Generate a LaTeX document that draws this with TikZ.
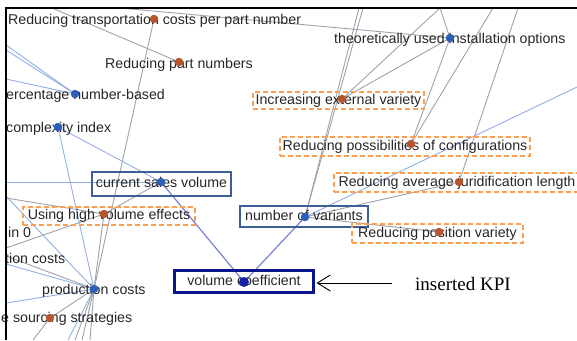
\documentclass[tikz,border=0pt]{standalone}
\usepackage{fontspec}
\setmainfont{Liberation Sans}
\newfontfamily\kpiserif{Liberation Serif}
\usetikzlibrary{arrows.meta}
\definecolor{txt}{HTML}{262626}
\definecolor{dashor}{RGB}{250,160,80}
\definecolor{boxblue}{RGB}{60,95,150}
\definecolor{kpinavy}{RGB}{10,20,140}
\definecolor{edgegray}{RGB}{160,160,170}
\definecolor{edgelblue}{RGB}{145,175,228}
\definecolor{edgemblue}{RGB}{120,130,215}
\definecolor{dotor}{RGB}{185,85,45}
\definecolor{dotbl}{RGB}{45,95,185}
\definecolor{dotkpi}{RGB}{20,35,165}
\begin{document}
\begin{tikzpicture}[x=1pt,y=-1pt,
  lbl/.style={font=\fontsize{14.2}{16}\selectfont, text=txt, inner sep=0pt, anchor=west, text height=10pt, text depth=0pt},
  boxbase/.style={font=\fontsize{14.2}{16}\selectfont, text=txt, inner sep=0pt, text height=10pt, text depth=3pt},
  dbox/.style={boxbase, draw=dashor, line width=1.4pt, dash pattern=on 5pt off 3pt},
  bbox/.style={boxbase, draw=boxblue, line width=1.2pt},
  kbox/.style={boxbase, draw=kpinavy, line width=3pt},
  odot/.style={circle, fill=dotor, minimum size=8.5pt, inner sep=0pt},
  bdot/.style={circle, fill=dotbl, minimum size=8.5pt, inner sep=0pt},
  kdot/.style={circle, fill=dotkpi, minimum size=10pt, inner sep=0pt},
  gedge/.style={draw=edgegray, line width=0.9pt},
  ledge/.style={draw=edgelblue, line width=0.9pt},
  medge/.style={draw=edgemblue, line width=1.2pt}]
\useasboundingbox (0,0) rectangle (577,340);

% dot positions
\coordinate (dTrans) at (154,19);
\coordinate (dParts) at (179,62);
\coordinate (dTheo) at (450,38);
\coordinate (dPerc) at (75,94);
\coordinate (dExt) at (342,99);
\coordinate (dComp) at (58,127);
\coordinate (dPoss) at (411,144);
\coordinate (dCur) at (161,182);
\coordinate (dJur) at (459,182);
\coordinate (dHigh) at (104,214);
\coordinate (dNov) at (305,217);
\coordinate (dPos) at (439,232);
\coordinate (dProd) at (94,289);
\coordinate (dVol) at (244,282);
\coordinate (dSrc) at (50,318);

% free ends
\coordinate (fT1) at (52,8);
\coordinate (fT2) at (120,8);
\coordinate (fT3) at (440,8);
\coordinate (fT4) at (493,8);
\coordinate (fT5) at (518,8);
\coordinate (fT6) at (359,8);
\coordinate (fT7) at (363,8);
\coordinate (fR1) at (577,87);
\coordinate (fL1) at (6,45);
\coordinate (fL2) at (6,50);
\coordinate (fL3) at (6,79);
\coordinate (fL4) at (6,182);
\coordinate (fL5) at (6,198);
\coordinate (fL6) at (6,196);
\coordinate (fL7) at (6,248);
\coordinate (fL8) at (6,256);
\coordinate (fL9) at (6,264);
\coordinate (fL10) at (6,303);
\coordinate (fB1) at (33,340);
\coordinate (fB2) at (75,340);
\coordinate (fB3) at (82,340);
\coordinate (fB4) at (90,340);
\coordinate (fB5) at (68,340);

\begin{scope}
\clip (6,8) rectangle (577,340);
% gray edges
\draw[gedge] (fT1) -- (dParts);
\draw[gedge] (fT2) -- (dTheo);
\draw[gedge] (fT3) -- (dExt);
\draw[gedge] (fT3) -- (dTheo);
\draw[gedge] (dTheo) -- (dExt);
\draw[gedge] (dTheo) -- (dPoss);
\draw[gedge] (fT4) -- (dPoss);
\draw[gedge] (fT5) -- (dJur);
\draw[gedge] (fT6) -- (dNov);
\draw[gedge] (fT7) -- (dNov);
\draw[gedge] (dNov) -- (dJur);
\draw[gedge] (dNov) -- (dPos);
\draw[gedge] (dTrans) -- (dProd);
\draw[gedge] (dHigh) -- (dCur);
\draw[gedge] (dHigh) -- (dProd);
\draw[gedge] (fL5) -- (dHigh);
\draw[gedge] (fL7) -- (dHigh);
\draw[gedge] (fL8) -- (dProd);
\draw[gedge] (dSrc) -- (dProd);
\draw[gedge] (dSrc) -- (fB1);
\draw[gedge] (dProd) -- (fB2);
\draw[gedge] (dProd) -- (fB3);
\draw[gedge] (dProd) -- (fB4);
% light blue edges
\draw[ledge] (fL1) -- (dPerc);
\draw[ledge] (fL2) -- (dPerc);
\draw[ledge] (fL3) -- (dPerc);
\draw[ledge] (dComp) -- (dCur);
\draw[ledge] (dComp) -- (dProd);
\draw[ledge] (fL4) -- (dCur);
\draw[ledge] (fL6) -- (dProd);
\draw[ledge] (fL9) -- (dProd);
\draw[ledge] (fL10) -- (dProd);
\draw[ledge] (dProd) -- (fB5);
\draw[ledge] (dNov) -- (fR1);
% medium blue edges
\draw[medge] (dCur) -- (dVol);
\draw[medge] (dNov) -- (dVol);
\end{scope}

% plain labels
\node[lbl] (lTrans) at (8,19) {Reducing transportation costs per part number};
\node[lbl] (lParts) at (105,63) {Reducing part numbers};
\node[lbl] (lTheo) at (334,38) {theoretically used installation options};
\node[lbl] (lPerc) at (6,94) {ercentage number-based};
\node[lbl] (lComp) at (6,127) {complexity index};
\node[lbl] (lIn) at (8,232) {in 0};
\node[lbl] (lTion) at (5,258) {tion costs};
\node[lbl] (lProd) at (42,289) {production costs};
\node[lbl] (lSrc) at (1,317) {e sourcing strategies};

% boxed labels
\node[dbox, minimum width=171pt, minimum height=17pt] (lExt) at (338.5,100.5) {Increasing external variety};
\node[dbox, minimum width=250pt, minimum height=19pt] (lPoss) at (405,146.5) {Reducing possibilities of configurations};
\node[bbox, minimum width=139pt, minimum height=24pt] (lCur) at (161.5,184) {current sales volume};
\node[dbox, minimum width=246pt, minimum height=19pt] (lJur) at (457,182.5) {Reducing average juridification length};
\node[dbox, minimum width=172pt, minimum height=18pt] (lHigh) at (109,216) {Using high volume effects};
\node[bbox, minimum width=128pt, minimum height=21pt] (lNov) at (304,216.5) {number of variants};
\node[dbox, minimum width=171pt, minimum height=19pt] (lPos) at (437.5,233.5) {Reducing position variety};
\node[kbox, minimum width=139pt, minimum height=22pt] (lVol) at (244,281.5) {volume coefficient};

% dots
\node[odot] (nTrans) at (dTrans) {};
\node[odot] (nParts) at (dParts) {};
\node[bdot] (nTheo) at (dTheo) {};
\node[bdot] (nPerc) at (dPerc) {};
\node[odot] (nExt) at (dExt) {};
\node[bdot] (nComp) at (dComp) {};
\node[odot] (nPoss) at (dPoss) {};
\node[bdot] (nCur) at (dCur) {};
\node[odot] (nJur) at (dJur) {};
\node[odot] (nHigh) at (dHigh) {};
\node[bdot] (nNov) at (dNov) {};
\node[odot] (nPos) at (dPos) {};
\node[bdot] (nProd) at (dProd) {};
\node[kdot] (nVol) at (dVol) {};
\node[odot] (nSrc) at (dSrc) {};

% frame
\draw[line width=1.5pt, black] (6,340) -- (6,8) -- (577,8);

% annotation
\coordinate (arrStart) at (392,283);
\draw[black, line width=0.9pt, -{Straight Barb[length=13pt,width=16pt]}, shorten >=1.5pt] (arrStart) -- (lVol.east |- arrStart);
\node[anchor=base west, inner sep=0pt, font=\kpiserif\fontsize{19}{22}\selectfont, text=black] (lKpi) at (415,290) {inserted KPI};
\end{tikzpicture}
\end{document}
